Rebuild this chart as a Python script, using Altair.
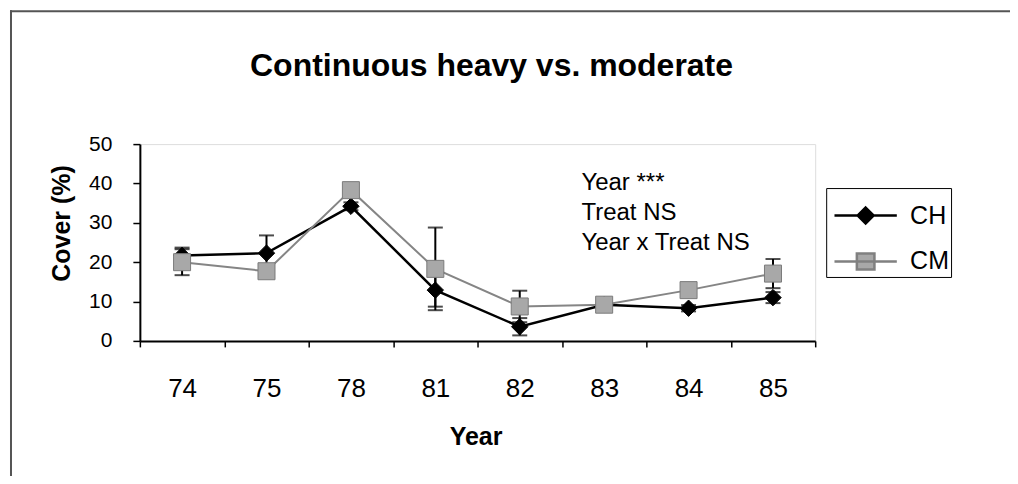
import altair as alt
import pandas as pd

years = ["74", "75", "78", "81", "82", "83", "84", "85"]
series = ["CH", "CM"]
ch_mean = [21.7, 22.3, 34.2, 12.9, 3.6, 9.2, 8.3, 11.0]
ch_err = [2.0, 4.5, 1.0, 4.2, 2.2, 0.8, 0.8, 1.4]
cm_mean = [20.0, 17.7, 38.3, 18.3, 8.75, 9.2, 12.9, 17.1]
cm_err = [3.3, 1.0, 1.0, 10.5, 4.0, 0.8, 0.8, 3.7]

notes = ["Year ***", "Treat NS", "Year x Treat NS"]
note_y = [40.1, 32.5, 24.9]

title_text = "Continuous heavy vs. moderate"
y_title = "Cover (%)"
x_title = "Year"

FONT = "Liberation Sans"

rows = []
for s, means, errs in [("CH", ch_mean, ch_err), ("CM", cm_mean, cm_err)]:
    for yr, m, e in zip(years, means, errs):
        rows.append({"year": yr, "series": s, "mean": m, "lo": m - e, "hi": m + e})
df = pd.DataFrame(rows)
notes_df = pd.DataFrame({"note": notes, "y": note_y})
one = pd.DataFrame({"a": [0]})

xaxis = alt.Axis(
    title=x_title,
    labelAngle=0,
    tickBand="extent",
    tickSize=6,
    tickWidth=1.5,
    tickColor="black",
    domainColor="black",
    domainWidth=2,
    labelFont=FONT,
    labelFontSize=26,
    labelColor="black",
    labelPadding=29,
    titleFont=FONT,
    titleFontSize=25,
    titleFontWeight="bold",
    titleColor="black",
    titleX=336,
    titleY=84,
    titleBaseline="top",
    titleAlign="center",
)
xscale = alt.Scale(paddingInner=0, paddingOuter=0)
yscale = alt.Scale(domain=[0, 50], nice=False)
yaxis = alt.Axis(
    title=y_title,
    values=[0, 10, 20, 30, 40, 50],
    labelOverlap=False,
    grid=False,
    tickSize=7,
    tickWidth=1.5,
    tickColor="black",
    domainColor="black",
    domainWidth=2,
    labelFont=FONT,
    labelFontSize=21,
    labelColor="black",
    labelPadding=21,
    titleFont=FONT,
    titleFontSize=25,
    titleFontWeight="bold",
    titleColor="black",
    titleX=-78,
    titleY=79,
    titleAngle=-90,
    titleAlign="center",
    titleBaseline="middle",
)


def X():
    return alt.X("year:N", sort=years, scale=xscale, axis=xaxis)


def Y(field):
    return alt.Y(field, scale=yscale, axis=yaxis)


base = alt.Chart(df)


def series_layers(name, line_color, line_width, shape, size, fill, stroke, stroke_w):
    d = base.transform_filter(alt.datum.series == name)
    line = d.mark_line(color=line_color, strokeWidth=line_width).encode(x=X(), y=Y("mean:Q"))
    bars = d.mark_rule(color="black", strokeWidth=2).encode(x=X(), y=Y("lo:Q"), y2="hi:Q")
    cap_lo = d.mark_tick(color="black", size=15, thickness=2).encode(x=X(), y=Y("lo:Q"))
    cap_hi = d.mark_tick(color="black", size=15, thickness=2).encode(x=X(), y=Y("hi:Q"))
    pts = d.mark_point(
        shape=shape, size=size, filled=True, fill=fill, stroke=stroke,
        strokeWidth=stroke_w, opacity=1,
    ).encode(x=X(), y=Y("mean:Q"))
    return [line, bars, cap_lo, cap_hi, pts]


ch_layers = series_layers("CH", "black", 2.5, "diamond", 270, "black", "black", 1)
cm_layers = series_layers("CM", "#858585", 2, "square", 290, "#a8a8a8", "#7a7a7a", 1)

ch_path = "M-3.9,0L3.9,0M0,-1L1,0L0,1L-1,0Z"
cm_path = "M-3.9,0L3.9,0M-1.1,-1L1.1,-1L1.1,1L-1.1,1Z"

leg = alt.Legend(
    title=" ",
    titleFontSize=1,
    titlePadding=12,
    orient="none",
    legendX=687,
    legendY=44,
    padding=2,
    strokeColor="black",
    symbolSize=256,
    symbolStrokeWidth=2.5,
    symbolOffset=25,
    labelOffset=32,
    labelFont=FONT,
    labelFontSize=25,
    labelColor="black",
    rowPadding=19,
    symbolOpacity=1,
    labelExpr="datum.label + ' '",
)

legend_layer = base.mark_point(filled=True, opacity=0).encode(
    x=X(),
    y=Y("mean:Q"),
    shape=alt.Shape("series:N", scale=alt.Scale(domain=series, range=[ch_path, cm_path]), legend=leg),
    fill=alt.Fill("series:N", scale=alt.Scale(domain=series, range=["black", "#a8a8a8"]), legend=leg),
    stroke=alt.Stroke("series:N", scale=alt.Scale(domain=series, range=["black", "#808080"]), legend=leg),
)

notes_layer = alt.Chart(notes_df).mark_text(
    align="left", baseline="middle", font=FONT, fontSize=24, color="black"
).encode(x=alt.value(442), y=Y("y:Q"), text="note:N")

border_top = alt.Chart(one).mark_rule(color="#555555", strokeWidth=2).encode(
    x=alt.value(-130), x2=alt.value(880), y=alt.value(-133)
)
border_left = alt.Chart(one).mark_rule(color="#555555", strokeWidth=2).encode(
    x=alt.value(-129), y=alt.value(-134), y2=alt.value(340)
)

chart = alt.layer(
    border_top, border_left, *ch_layers, *cm_layers, legend_layer, notes_layer
).properties(
    width=676,
    height=197,
    title=alt.TitleParams(
        title_text, font=FONT, fontSize=32, fontWeight="bold", color="black",
        anchor="middle", dx=14, offset=0, dy=99, frame="group", baseline="alphabetic",
    ),
    autosize=alt.AutoSizeParams(type="none"),
    padding={"left": 132, "top": 136, "right": 195, "bottom": 135},
).configure_view(stroke="#9a9a9a", strokeWidth=1.5).configure(background="white")

chart.save("out.html", embed_options={"renderer": "svg", "actions": False})
